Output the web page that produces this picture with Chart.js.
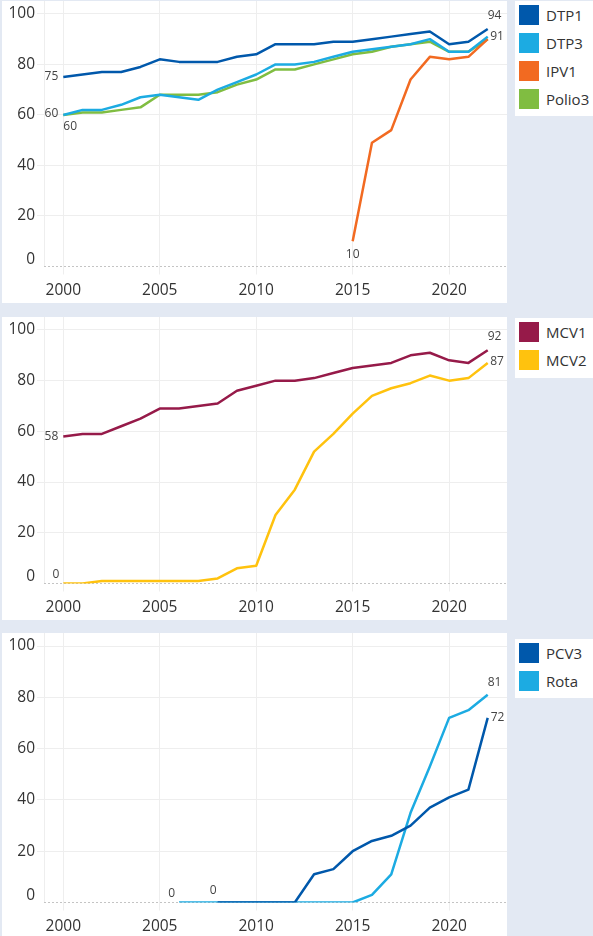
<!DOCTYPE html>
<html><head><meta charset="utf-8">
<script src="https://cdn.jsdelivr.net/npm/chart.js@4.4.0/dist/chart.umd.min.js"></script>
<style>
html,body{margin:0;padding:0;background:#e3e9f3;width:593px;height:936px;overflow:hidden;font-family:'Open Sans',sans-serif;}
.panel{position:absolute;left:2px;width:505px;background:#fff;}
.panel canvas{display:block;}
.legend{position:absolute;left:515px;width:78px;background:#fff;box-sizing:border-box;padding-top:4px;}
.item{display:flex;align-items:center;height:20px;margin-bottom:8px;margin-left:4px;font-size:15px;color:#333;white-space:nowrap;}
.sw{width:20px;height:20px;margin-right:7px;flex:none;}
</style></head><body>
<div class="panel" style="top:1px;height:302px"><canvas id="c1" width="505" height="302"></canvas></div>
<div class="legend" id="l1" style="top:1px;height:115px"></div>
<div class="panel" style="top:317px;height:303px"><canvas id="c2" width="505" height="303"></canvas></div>
<div class="legend" id="l2" style="top:318px;height:60px"></div>
<div class="panel" style="top:633px;height:306px"><canvas id="c3" width="505" height="306"></canvas></div>
<div class="legend" id="l3" style="top:639px;height:59px"></div>
<script>
// ---- data ----
const years = [2000,2001,2002,2003,2004,2005,2006,2007,2008,2009,2010,2011,2012,2013,2014,2015,2016,2017,2018,2019,2020,2021,2022];
const xTicks = [2000,2005,2010,2015,2020];
const yTicks = [0,20,40,60,80,100];

const names1 = ['DTP1','DTP3','IPV1','Polio3'];
const dtp1   = [75,76,77,77,79,82,81,81,81,83,84,88,88,88,89,89,90,91,92,93,88,89,94];
const dtp3   = [60,62,62,64,67,68,67,66,70,73,76,80,80,81,83,85,86,87,88,90,85,85,91];
const ipv1   = [null,null,null,null,null,null,null,null,null,null,null,null,null,null,null,10,49,54,74,83,82,83,90];
const polio3 = [60,61,61,62,63,68,68,68,69,72,74,78,78,80,82,84,85,87,88,89,85,85,90];

const names2 = ['MCV1','MCV2'];
const mcv1 = [58,59,59,62,65,69,69,70,71,76,78,80,80,81,83,85,86,87,90,91,88,87,92];
const mcv2 = [0,0,1,1,1,1,1,1,2,6,7,27,37,52,59,67,74,77,79,82,80,81,87];

const names3 = ['PCV3','Rota'];
const pcv3 = [null,null,null,null,null,null,null,null,0,0,0,0,0,11,13,20,24,26,30,37,41,44,72];
const rota = [null,null,null,null,null,null,0,0,0,0,0,0,0,0,0,0,3,11,35,53,72,75,81];

// ---- styles ----
const C = {dark:'#0058AB', cyan:'#1CABE2', orange:'#F26A21', green:'#80BD41', maroon:'#961A49', yellow:'#FFC20E'};
const FONT = "'Open Sans', sans-serif";

function pts(vals){ return years.map((yr,i)=>({x:yr, y:vals[i]})); }
function ds(label, vals, color){
  return {label, data:pts(vals), borderColor:color, backgroundColor:color, borderWidth:2.5, pointRadius:0, tension:0, borderJoinStyle:'round', spanGaps:false, fill:false};
}

const zeroLine = {
  id:'zeroLine',
  beforeDatasetsDraw(chart){
    const ctx = chart.ctx, ys = chart.scales.y, a = chart.chartArea;
    const y = Math.round(ys.getPixelForValue(0)) - 0.5;
    ctx.save();
    ctx.strokeStyle = '#c4c4c4'; ctx.lineWidth = 1; ctx.setLineDash([2,2]);
    ctx.beginPath(); ctx.moveTo(a.left, y); ctx.lineTo(a.right, y); ctx.stroke();
    ctx.restore();
  }
};
const valLabels = {
  id:'valLabels',
  afterDatasetsDraw(chart, args, opts){
    const ctx = chart.ctx, xs = chart.scales.x, ys = chart.scales.y;
    ctx.save();
    ctx.font = "12px " + FONT; ctx.fillStyle = '#444'; ctx.textBaseline = 'middle';
    (opts.items||[]).forEach(it=>{
      const p = chart.data.datasets[it.ds].data.filter(d=>d.y!==null);
      const q = it.at==='start' ? p[0] : p[p.length-1];
      ctx.textAlign = it.align;
      ctx.fillText(String(q.y), xs.getPixelForValue(q.x)+it.dx, ys.getPixelForValue(q.y)+it.dy);
    });
    ctx.restore();
  }
};
const yLabels = {
  id:'yLabels',
  afterDraw(chart){
    const ctx = chart.ctx, ys = chart.scales.y;
    ctx.save();
    ctx.font = "15.5px " + FONT; ctx.fillStyle = '#333'; ctx.textAlign = 'right'; ctx.textBaseline = 'middle';
    yTicks.forEach(v=>{
      let py = ys.getPixelForValue(v);
      if (v === 0) py -= 7;
      ctx.fillText(String(v), chart.chartArea.left - 9, py);
    });
    ctx.restore();
  }
};

function makeChart(id, datasets, items){
  return new Chart(document.getElementById(id), {
    type:'line',
    data:{datasets},
    options:{
      responsive:false, animation:false, devicePixelRatio:1,
      layout:{padding:0},
      plugins:{legend:{display:false}, tooltip:{enabled:false}, valLabels:{items}},
      scales:{
        x:{type:'linear', min:1999, max:2023,
          afterBuildTicks:s=>{ s.ticks = xTicks.map(v=>({value:v})); },
          afterFit:s=>{ s.height = 36.5; },
          ticks:{autoSkip:false, maxRotation:0, padding:7, color:'#333', font:{family:FONT, size:15.5}, callback:v=>String(v)},
          grid:{color:'#eeeeee', lineWidth:1, drawTicks:true, tickLength:8},
          border:{display:false}
        },
        y:{type:'linear', min:0, max:105.1,
          afterBuildTicks:s=>{ s.ticks = yTicks.map(v=>({value:v})); },
          afterFit:s=>{ s.width = 42; },
          ticks:{display:false},
          grid:{color:c=> (c.tick && c.tick.value===0) ? 'rgba(0,0,0,0)' : '#eeeeee', lineWidth:1, drawTicks:true, tickLength:7},
          border:{display:true, color:'#eeeeee', width:1}
        }
      }
    },
    plugins:[zeroLine, valLabels, yLabels]
  });
}

function legend(id, names, colors){
  const el = document.getElementById(id);
  names.forEach((n,i)=>{
    const d = document.createElement('div'); d.className='item';
    const s = document.createElement('span'); s.className='sw'; s.style.background = colors[i];
    const t = document.createElement('span'); t.textContent = n;
    d.appendChild(s); d.appendChild(t); el.appendChild(d);
  });
}

const col1 = [C.dark, C.cyan, C.orange, C.green];
makeChart('c1', [ds(names1[0],dtp1,col1[0]), ds(names1[1],dtp3,col1[1]), ds(names1[2],ipv1,col1[2]), ds(names1[3],polio3,col1[3])], [
  {ds:0, at:'start', align:'right', dx:-5, dy:0},
  {ds:1, at:'start', align:'right', dx:-5, dy:-1},
  {ds:3, at:'start', align:'left', dx:0, dy:12},
  {ds:2, at:'start', align:'center', dx:0, dy:13},
  {ds:0, at:'end', align:'left', dx:0, dy:-13.5},
  {ds:1, at:'end', align:'left', dx:2.5, dy:0}
]);
legend('l1', names1, col1);

const col2 = [C.maroon, C.yellow];
makeChart('c2', [ds(names2[0],mcv1,col2[0]), ds(names2[1],mcv2,col2[1])], [
  {ds:0, at:'start', align:'right', dx:-5, dy:0},
  {ds:1, at:'start', align:'right', dx:-4, dy:-8.5},
  {ds:0, at:'end', align:'left', dx:0, dy:-13.5},
  {ds:1, at:'end', align:'left', dx:2.5, dy:-1}
]);
legend('l2', names2, col2);

const col3 = [C.dark, C.cyan];
makeChart('c3', [ds(names3[0],pcv3,col3[0]), ds(names3[1],rota,col3[1])], [
  {ds:1, at:'start', align:'right', dx:-4, dy:-8.5},
  {ds:0, at:'start', align:'center', dx:-4.5, dy:-11.5},
  {ds:1, at:'end', align:'left', dx:0, dy:-12},
  {ds:0, at:'end', align:'left', dx:3, dy:0}
]);
legend('l3', names3, col3);
</script>
</body></html>
